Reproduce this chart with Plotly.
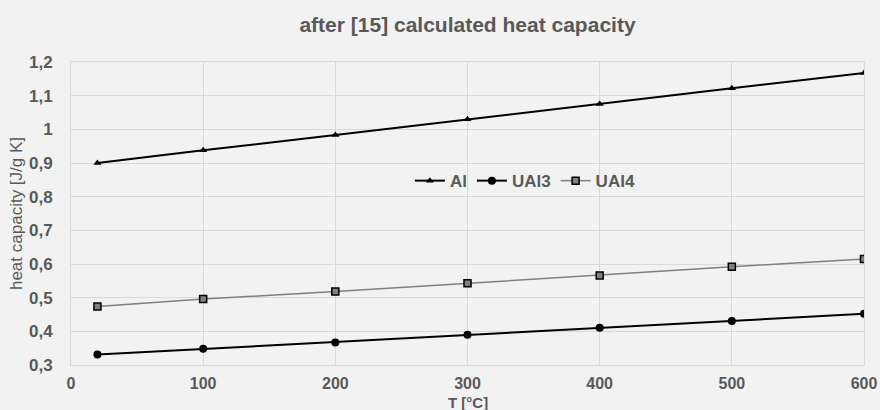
import plotly.graph_objects as go

T = [20, 100, 200, 300, 400, 500, 600]
al = [0.900, 0.938, 0.983, 1.030, 1.075, 1.122, 1.167]
ual3 = [0.331, 0.348, 0.367, 0.390, 0.411, 0.431, 0.452]
ual4 = [0.474, 0.496, 0.518, 0.543, 0.566, 0.592, 0.615]

x_ticks = [0, 100, 200, 300, 400, 500, 600]
y_ticks = [0.3, 0.4, 0.5, 0.6, 0.7, 0.8, 0.9, 1.0, 1.1, 1.2]
y_tick_text = ["0,3", "0,4", "0,5", "0,6", "0,7", "0,8", "0,9", "1", "1,1", "1,2"]

title_text = "after [15] calculated heat capacity"
x_title = "T [°C]"
y_title = "heat capacity [J/g K]"

GRAY = "#595959"
GRID = "#d9d9d9"
FONT = "Liberation Sans, Arial, sans-serif"

fig = go.Figure()
fig.add_trace(go.Scatter(
    x=T, y=al, name="Al", mode="lines+markers",
    line=dict(color="#000000", width=2),
    marker=dict(symbol="triangle-up", size=7, color="#000000"),
))
fig.add_trace(go.Scatter(
    x=T, y=ual3, name="UAl3", mode="lines+markers",
    line=dict(color="#000000", width=2),
    marker=dict(symbol="circle", size=8, color="#000000"),
))
fig.add_trace(go.Scatter(
    x=T, y=ual4, name="UAl4", mode="lines+markers",
    line=dict(color="#7f7f7f", width=1.5),
    marker=dict(symbol="square", size=7, color="#808080",
                line=dict(color="#000000", width=1.5)),
))

fig.update_layout(
    width=880, height=410,
    paper_bgcolor="#f2f2f2", plot_bgcolor="#f2f2f2",
    margin=dict(l=71, r=16, t=62, b=45),
    font=dict(family=FONT, color=GRAY),
    title=dict(text="<b>" + title_text + "</b>", x=(71 + 864) / 2 / 880, xanchor="center",
               y=1 - 25 / 410, yanchor="middle",
               font=dict(size=21, color=GRAY, family=FONT)),
    showlegend=True,
    legend=dict(orientation="h", x=0.573, xanchor="center", y=0.607, yanchor="middle",
                bgcolor="rgba(0,0,0,0)", font=dict(size=17, color=GRAY, family=FONT, weight="bold"),
                itemwidth=30, tracegroupgap=0),
    annotations=[dict(text="<b>" + x_title + "</b>", xref="paper", yref="paper",
                      x=0.5, y=(365 - 402) / 303, xanchor="center", yanchor="middle",
                      showarrow=False, font=dict(size=15, color=GRAY, family=FONT))],
)
fig.update_xaxes(
    range=[0, 600], tickvals=x_ticks, ticktext=[str(v) for v in x_ticks],
    automargin=False,
    showgrid=True, gridcolor=GRID, gridwidth=1, zeroline=False,
    showline=True, linecolor=GRID, linewidth=1, mirror=True,
    ticks="outside", ticklen=4, tickcolor="rgba(0,0,0,0)",
    tickfont=dict(size=16, color=GRAY, family=FONT, weight="bold"),
)
fig.update_yaxes(
    range=[0.3, 1.2], tickvals=y_ticks, ticktext=y_tick_text,
    automargin=False,
    showgrid=True, gridcolor=GRID, gridwidth=1, zeroline=False,
    showline=True, linecolor=GRID, linewidth=1, mirror=True,
    ticks="outside", ticklen=14, tickcolor="rgba(0,0,0,0)",
    tickfont=dict(size=17, color=GRAY, family=FONT, weight="bold"),
    title=dict(text=y_title, standoff=2,
               font=dict(size=17, color=GRAY, family=FONT)),
)

fig.write_html(
    "out.html",
    config={"displayModeBar": False},
    post_script="document.body.style.margin='0';document.body.style.background='#f2f2f2';",
)
